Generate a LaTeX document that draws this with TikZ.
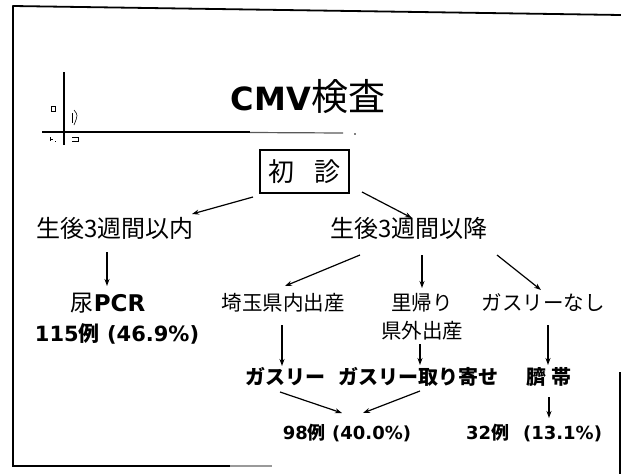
\documentclass[tikz,border=0pt]{standalone}
\usepackage{fontspec}
\setmainfont{Noto Sans CJK JP}
\newfontfamily\latfont{DejaVu Sans}
\newcommand\latb[1]{{\latfont\bfseries #1}}
\usetikzlibrary{arrows.meta,calc}
\tikzset{
  reg/.style={inner sep=0pt,font=\fontsize{20.5}{24}\selectfont},
  big/.style={inner sep=0pt,font=\fontsize{24}{28}\selectfont},
  bld/.style={inner sep=0pt,font=\fontsize{20}{24}\selectfont\bfseries},
  num/.style={inner sep=0pt,font=\fontsize{18}{22}\selectfont},
  conn/.style={line width=1.2pt,-{Stealth[length=7pt,width=5pt]}},
  frame/.style={line width=1.8pt,line cap=round}
}
\begin{document}
\begin{tikzpicture}[x=1pt,y=-1pt]
\useasboundingbox (0,0) rectangle (621,474);
% frame
\draw[frame] (13,6) -- (621,15);
\draw[frame] (13,6) -- (13,466) -- (230,466);
\draw[line width=1.4pt,black!40] (230,466) -- (272,466);
\draw[line width=1.2pt] (620,372) -- (620,474);
% logo marks
\draw[line width=1.5pt] (64,72) -- (64,145);
\draw[line width=1.7pt] (42,132) -- (250,132);
\draw[line width=1.2pt,black!65] (250,132.5) -- (343,133);
\fill (355,134) circle (0.8pt);
\draw[line width=0.6pt] (51,106) rectangle (55,111);
\draw[line width=0.6pt] (74,110) .. controls (78,115) .. (74,125);
\draw[line width=0.5pt] (72,113) -- (72,123);
\draw[line width=0.6pt] (50,137) -- (50,141) (50,139) -- (53,139) (55,141) -- (55.5,141);
\draw[line width=0.6pt] (72,137) -- (78,137) -- (78,141) -- (72,141);
% nodes
\node[inner sep=0pt] (title) at (308,97)
  {{\fontsize{32}{36}\selectfont\latb{CMV}}{\fontsize{37}{40}\selectfont 検査}};
\node[draw,line width=1.4pt,minimum width=89pt,minimum height=43pt,inner sep=0pt,
      font=\fontsize{26}{30}\selectfont] (box) at (304.5,171.5) {初\hspace{0.8em}診};
\node[big] (naikn) at (115,228) {生後3週間以内};
\node[big] (ikou) at (409,228) {生後3週間以降};
\node[inner sep=0pt,font=\fontsize{23}{26}\selectfont] (pcr) at (108,303) {尿\latb{PCR}};
\node[inner sep=0pt,font=\fontsize{21}{24}\selectfont] (r115) at (117,334)
  {\latb{115}{\bfseries 例}\latb{ (46.9\%)}};
\node[reg] (saitama) at (283,303) {埼玉県内出産};
\node[reg] (sato) at (422,303) {里帰り};
\node[reg] (kengai) at (422,331) {県外出産};
\node[reg] (nashi) at (543,303) {ガスリーなし};
\node[bld] (guthrie) at (285,377) {ガスリー};
\node[bld] (toriyose) at (418,377) {ガスリー取り寄せ};
\node[bld] (heso) at (549,377) {臍 帯};
\node[num] (r98) at (347,433) {\latb{98}{\bfseries 例}\latb{ (40.0\%)}};
\node[num] (r32) at (534,433) {\latb{32}{\bfseries 例}\hspace{14pt}\latb{(13.1\%)}};
% connectors
\draw[conn] ($(box)+(-51.5,25.5)$) -- ($(naikn)+(77,-14)$);
\draw[conn] ($(box)+(57.5,20.5)$) -- ($(ikou)+(3,-10)$);
\draw[conn] ($(naikn)+(-8,24)$) -- ($(pcr)+(-1,-17)$);
\draw[conn] ($(ikou)+(-49,27)$) -- ($(saitama)+(2,-17)$);
\draw[conn] ($(ikou)+(13,27)$) -- ($(sato)+(0,-15)$);
\draw[conn] ($(ikou)+(88,27)$) -- ($(nashi)+(-2,-13)$);
\draw[conn] ($(saitama)+(-1,22)$) -- ($(guthrie)+(-3,-11)$);
\draw[conn] ($(kengai)+(-2,13)$) -- ($(toriyose)+(2,-12)$);
\draw[conn] ($(nashi)+(5,22)$) -- ($(heso)+(-1,-12)$);
\draw[conn] ($(guthrie)+(-5,15)$) -- ($(r98)+(-5,-20)$);
\draw[conn] ($(toriyose)+(2,14)$) -- ($(r98)+(16,-20)$);
\draw[conn] ($(heso)+(0,20)$) -- ($(r32)+(15,-15)$);
\end{tikzpicture}
\end{document}
